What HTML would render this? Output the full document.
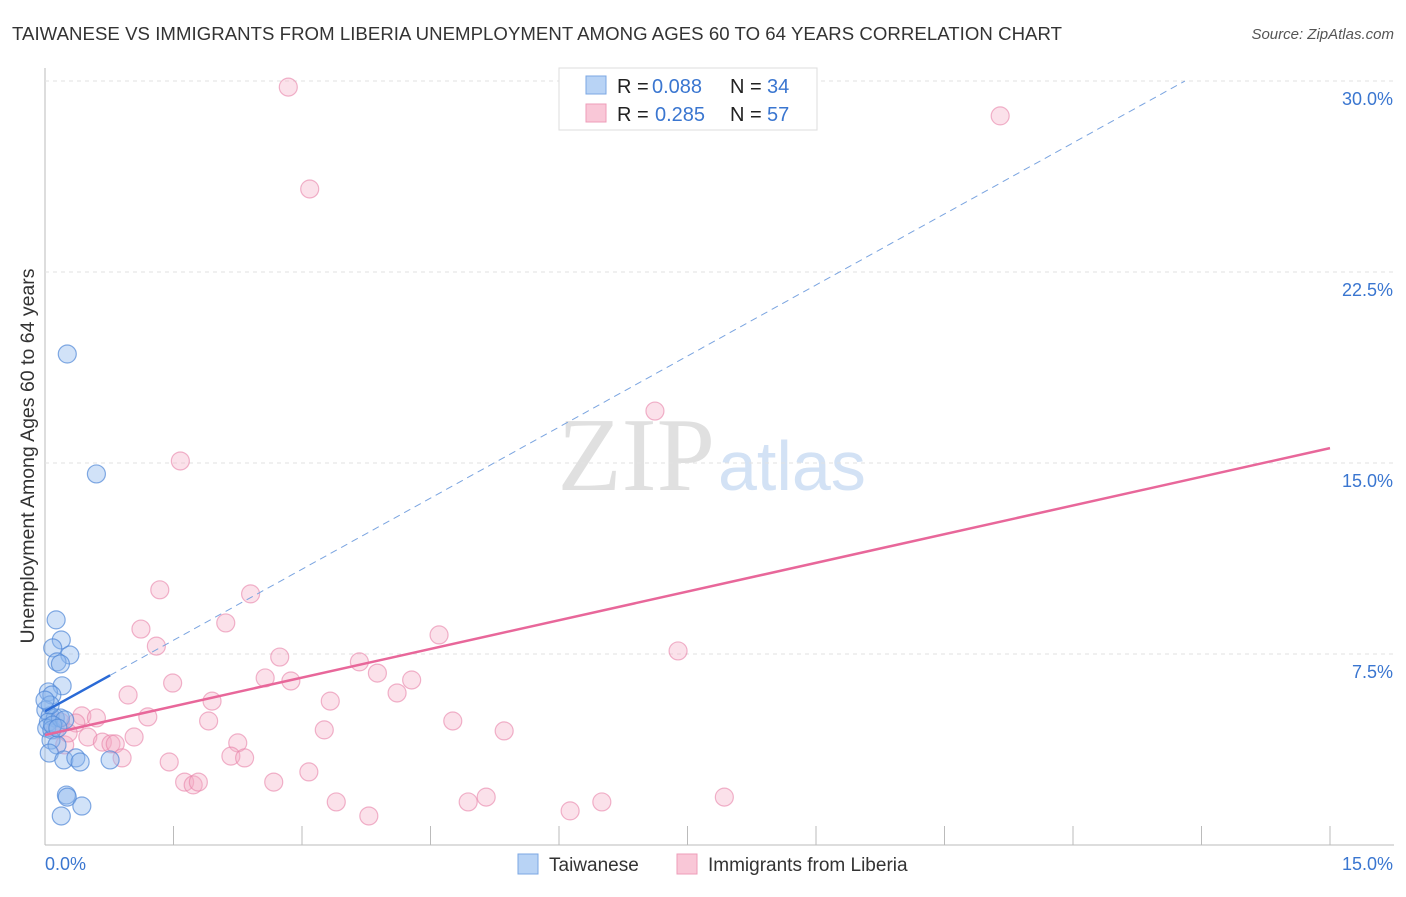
<!DOCTYPE html>
<html><head><meta charset="utf-8"><style>
body{margin:0;background:#fff;font-family:"Liberation Sans",sans-serif}
svg text{font-family:"Liberation Sans",sans-serif}
</style></head><body>
<svg id="c" width="1406" height="892">
<text x="12" y="40" font-size="18.6" fill="#333" textLength="1050">TAIWANESE VS IMMIGRANTS FROM LIBERIA UNEMPLOYMENT AMONG AGES 60 TO 64 YEARS CORRELATION CHART</text>
<text x="1394" y="39" font-size="15" fill="#555" font-style="italic" text-anchor="end">Source: ZipAtlas.com</text>
<text x="715" y="490" font-size="105" fill="#e0e0e0" text-anchor="end" style="font-family:'Liberation Serif',serif">ZIP</text>
<text x="718" y="490" font-size="70" fill="#d3e2f5">atlas</text>
<text transform="translate(34,456) rotate(-90)" font-size="19.5" fill="#333" text-anchor="middle">Unemployment Among Ages 60 to 64 years</text>
<g id="grid"></g><g id="marks"></g>
<g>
<rect x="559" y="68" width="258" height="62" fill="#fff" stroke="#ddd"/>
<rect x="586" y="76" width="20" height="18" fill="#b8d3f5" stroke="#7ba7e3"/>
<rect x="586" y="104" width="20" height="18" fill="#f9c7d7" stroke="#ee9cb9"/>
<text x="617" y="93" font-size="20" fill="#222">R =</text>
<text x="652" y="93" font-size="20" fill="#3a76d0">0.088</text>
<text x="730" y="93" font-size="20" fill="#222">N =</text>
<text x="767" y="93" font-size="20" fill="#3a76d0">34</text>
<text x="617" y="121" font-size="20" fill="#222">R =</text>
<text x="655" y="121" font-size="20" fill="#3a76d0">0.285</text>
<text x="730" y="121" font-size="20" fill="#222">N =</text>
<text x="767" y="121" font-size="20" fill="#3a76d0">57</text>
</g>
<rect x="518" y="854" width="20" height="20" fill="#b8d3f5" stroke="#7ba7e3"/>
<text x="549" y="871" font-size="19" fill="#333">Taiwanese</text>
<rect x="677" y="854" width="20" height="20" fill="#f9c7d7" stroke="#ee9cb9"/>
<text x="708" y="871" font-size="19" fill="#333">Immigrants from Liberia</text>
</svg>
<script>
const blueX=[0.26,0.60,0.13,0.19,0.09,0.29,0.14,0.18,0.20,0.04,0.08,0.01,0.06,0.12,0.04,0.02,0.08,0.18,0.23,0.07,0.14,0.05,0.22,0.36,0.41,0.76,0.25,0.26,0.43,0.19,0.06,0.09,0.15,0.0];
const blueY=[19.28,14.57,8.84,8.05,7.74,7.46,7.19,7.11,6.25,6.01,5.89,5.30,5.07,4.99,4.83,4.59,4.52,4.99,4.91,4.12,3.93,3.61,3.34,3.42,3.26,3.34,1.96,1.88,1.53,1.14,5.50,4.71,4.59,5.69];
const pinkX=[2.84,11.15,3.09,7.12,1.58,1.34,2.40,1.12,2.11,1.30,4.60,2.74,7.39,1.49,3.67,3.88,2.57,2.87,4.28,0.97,1.95,3.33,4.11,1.20,1.91,0.43,0.60,0.18,0.36,4.76,3.26,5.36,0.50,0.67,0.77,0.82,1.04,2.25,0.23,2.17,0.90,1.45,2.33,1.63,1.73,1.79,2.67,3.08,3.40,4.94,5.15,6.50,7.93,3.78,6.13,0.12,0.27];
const pinkY=[29.76,28.63,25.76,17.04,15.08,10.02,9.86,8.48,8.72,7.81,8.25,7.38,7.62,6.36,7.19,6.75,6.56,6.44,6.48,5.89,5.65,5.65,5.97,5.03,4.87,5.07,4.99,4.83,4.79,4.87,4.52,4.48,4.24,4.04,3.97,3.97,4.24,4.01,3.93,3.49,3.42,3.26,3.42,2.47,2.36,2.47,2.47,2.87,1.69,1.69,1.88,1.69,1.88,1.14,1.34,4.52,4.40];
const blueTrend=[5.25,1.86];
const pinkTrend=[4.32,0.751];
const yTicks=[7.5,15,22.5,30];
const yTickLabels=["7.5%","15.0%","22.5%","30.0%"];
const xTicks=[0,1.5,3,4.5,6,7.5,9,10.5,12,13.5,15];
const X=v=>45+v/15*1285, Y=v=>845-v/7.5*191;
const NS="http://www.w3.org/2000/svg";
function mk(p,t,a){const e=document.createElementNS(NS,t);for(const k in a)e.setAttribute(k,a[k]);p.appendChild(e);return e;}
const g=document.getElementById('grid'),m=document.getElementById('marks');
let ax=mk(g,'line',{x1:45,y1:68,x2:45,y2:845,stroke:'#bbb'});

let bx=mk(g,'line',{x1:45,y1:845,x2:1394,y2:845,stroke:'#bbb'});

yTicks.forEach((v,i)=>{
 let l=mk(g,'line',{x1:45,y1:Y(v),x2:1394,y2:Y(v),stroke:'#e2e2e2','stroke-dasharray':'4,4'});
 
 let t=mk(g,'text',{x:1393,y:Y(v)+24,'font-size':18,fill:'#3a76d0','text-anchor':'end'});t.textContent=yTickLabels[i];
 
});
xTicks.forEach(v=>{let l=mk(g,'line',{x1:X(v),y1:826,x2:X(v),y2:845,stroke:'#bbb'});
 });
let t0=mk(g,'text',{x:45,y:870,'font-size':18,fill:'#3a76d0'});t0.textContent='0.0%';

let t1=mk(g,'text',{x:1393,y:870,'font-size':18,fill:'#3a76d0','text-anchor':'end'});t1.textContent='15.0%';

pinkX.forEach((x,i)=>{let c=mk(m,'circle',{cx:X(x),cy:Y(pinkY[i]),r:9,fill:'rgba(244,170,196,0.35)',stroke:'rgba(232,130,168,0.6)','stroke-width':1.2});
 });
blueX.forEach((x,i)=>{let c=mk(m,'circle',{cx:X(x),cy:Y(blueY[i]),r:9,fill:'rgba(140,182,238,0.4)',stroke:'rgba(80,135,215,0.7)','stroke-width':1.2});
 });
const bmax=Math.max(...blueX), bend=(30-blueTrend[0])/blueTrend[1];
let d=mk(m,'line',{x1:X(bmax),y1:Y(blueTrend[0]+blueTrend[1]*bmax),x2:X(bend),y2:Y(30),stroke:'#7aa4e0','stroke-width':1,'stroke-dasharray':'7,5'});

let bl=mk(m,'line',{x1:X(0),y1:Y(blueTrend[0]),x2:X(bmax),y2:Y(blueTrend[0]+blueTrend[1]*bmax),stroke:'#2a6ad6','stroke-width':2.5});

let pl=mk(m,'line',{x1:X(0),y1:Y(pinkTrend[0]),x2:X(15),y2:Y(pinkTrend[0]+pinkTrend[1]*15),stroke:'#e8679a','stroke-width':2.5});

</script>
</body></html>
